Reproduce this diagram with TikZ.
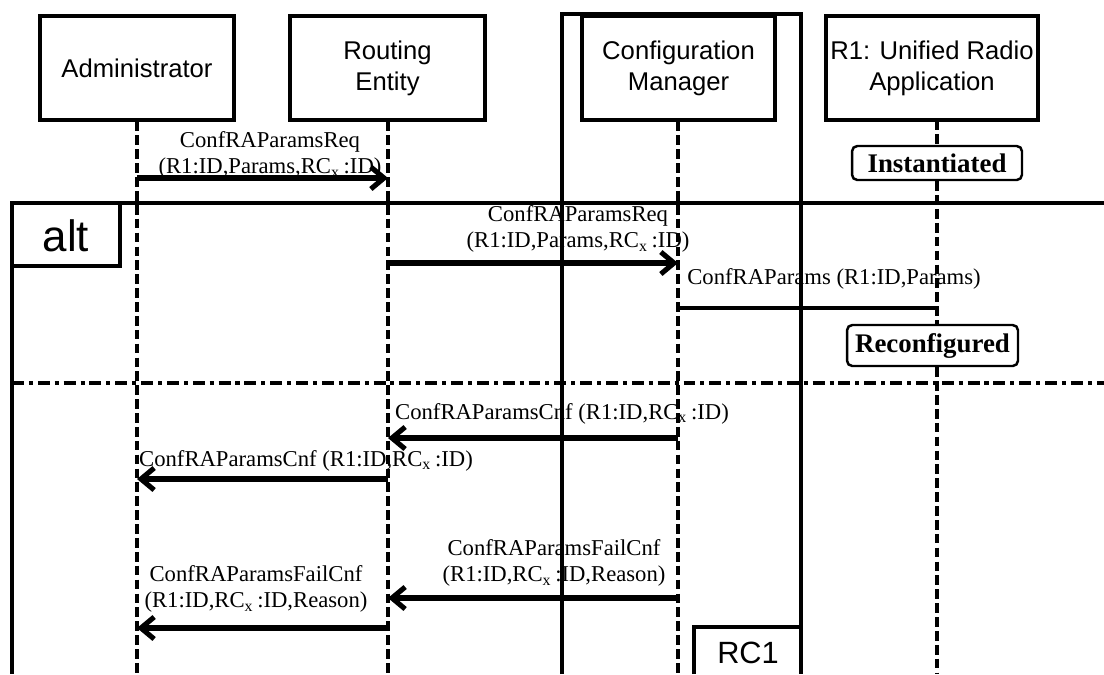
\documentclass[tikz,border=0pt]{standalone}
\usepackage{fontspec}
\setmainfont{Liberation Serif}
\newfontfamily\sansf{Liberation Sans}
\usetikzlibrary{arrows.meta}
\begin{document}
\begin{tikzpicture}[x=0.02cm,y=-0.02cm,
  actor/.style={draw,line width=1.8pt,inner sep=0pt,align=center,
    font=\sansf\fontsize{14.6}{17.5}\selectfont},
  state/.style={draw,line width=1.4pt,rounded corners=3pt,inner sep=0pt,
    font=\bfseries\fontsize{15.3}{18}\selectfont},
  lbl/.style={inner sep=0pt,align=center,font=\fontsize{12.9}{15.2}\selectfont},
  life/.style={line width=2.8pt,dash pattern=on 5.5pt off 2.4pt},
  frame/.style={line width=1.9pt},
  msg/.style={line width=2.9pt,-{Straight Barb[length=7.5pt,width=12.5pt]}},
  plainmsg/.style={line width=1.9pt},
  sep/.style={line width=2.7pt,dash pattern=on 6.8pt off 2.8pt on 2.3pt off 2.8pt},
  tagtext/.style={inner sep=0pt,font=\sansf\fontsize{25}{28}\selectfont}
]
\useasboundingbox (0,0) rectangle (1104,674);

% actors
\node[actor,minimum width=3.88cm,minimum height=2.08cm] (adm) at (137,68) {Administrator};
\node[actor,minimum width=3.9cm,minimum height=2.08cm] (rt) at (387.5,68) {Routing\\Entity};
\node[actor,minimum width=3.86cm,minimum height=2.08cm] (cm) at (678.5,68) {Configuration\\Manager};
\node[actor,minimum width=4.24cm,minimum height=2.08cm] (r1) at (932,68) {R1: Unified Radio\\Application};

% states
\node[state,minimum width=3.4cm,minimum height=0.68cm] (inst) at (937,163) {Instantiated};
\node[state,minimum width=3.42cm,minimum height=0.82cm] (reco) at (932.5,345.5) {Reconfigured};

% message labels
\node[lbl] (l1) at (270,155) {ConfRAParamsReq\\(R1:ID,Params,RC\textsubscript{x}\,:ID)};
\node[lbl] (l2) at (578,229) {ConfRAParamsReq\\(R1:ID,Params,RC\textsubscript{x}\,:ID)};
\node[lbl] (l3) at (834,279) {ConfRAParams (R1:ID,Params)};
\node[lbl] (l4) at (562,414) {ConfRAParamsCnf (R1:ID,RC\textsubscript{x}\,:ID)};
\node[lbl] (l5) at (306,461) {ConfRAParamsCnf (R1:ID,RC\textsubscript{x}\,:ID)};
\node[lbl] (l6) at (554,563) {ConfRAParamsFailCnf\\(R1:ID,RC\textsubscript{x}\,:ID,Reason)};
\node[lbl] (l7) at (256,589) {ConfRAParamsFailCnf\\(R1:ID,RC\textsubscript{x}\,:ID,Reason)};

% coordinates
\coordinate (admEnd) at (137,674);
\coordinate (rtEnd) at (388,674);
\coordinate (cmEnd) at (678,674);
\coordinate (r1Top) at (937,120);
\coordinate (r1End) at (937,674);

% lifelines
\draw[life] (adm.south) -- (admEnd);
\draw[life] (rt.south -| rtEnd) -- (rtEnd);
\draw[life] (cm.south -| cmEnd) -- (cmEnd);
\draw[life] (r1Top) -- (inst.north);
\draw[life] (inst.south) -- (reco.north -| inst.south);
\draw[life] (reco.south -| inst.south) -- (r1End);

% RC1 frame
\coordinate (fA) at (562,674);
\coordinate (fB) at (562,14);
\coordinate (fC) at (801,14);
\coordinate (fD) at (801,674);
\draw[frame] (fA) -- (fB) -- (fC) -- (fD);
\coordinate (rcA) at (694,674);
\coordinate (rcB) at (694,627);
\coordinate (rcC) at (801,627);
\draw[frame] (rcA) -- (rcB) -- (rcC);
\node[tagtext,font=\sansf\fontsize{17.5}{20}\selectfont] (rc1) at (748,653) {RC1};

% alt frame
\coordinate (aA) at (1104,203);
\coordinate (aB) at (12,203);
\coordinate (aC) at (12,674);
\draw[frame] (aA) -- (aB) -- (aC);
\coordinate (tA) at (12,266);
\coordinate (tB) at (120,266);
\coordinate (tC) at (120,203);
\draw[frame] (tA) -- (tB) -- (tC);
\node[tagtext] (alt) at (66,236) {alt};

% separator
\coordinate (sA) at (12,383);
\coordinate (sB) at (1104,383);
\draw[sep] (sA) -- (sB);

% messages
\coordinate (m1s) at (137,178); \coordinate (m1e) at (388,178);
\coordinate (m2s) at (388,263); \coordinate (m2e) at (678,263);
\coordinate (m3s) at (678,308); \coordinate (m3e) at (937,308);
\coordinate (m4s) at (678,438); \coordinate (m4e) at (388,438);
\coordinate (m5s) at (388,479); \coordinate (m5e) at (137,479);
\coordinate (m6s) at (678,598); \coordinate (m6e) at (388,598);
\coordinate (m7s) at (388,628); \coordinate (m7e) at (137,628);
\draw[msg] (m1s) -- (m1e);
\draw[msg] (m2s) -- (m2e);
\draw[plainmsg] (m3s) -- (m3e);
\draw[msg] (m4s) -- (m4e);
\draw[msg] (m5s) -- (m5e);
\draw[msg] (m6s) -- (m6e);
\draw[msg] (m7s) -- (m7e);
\end{tikzpicture}
\end{document}
